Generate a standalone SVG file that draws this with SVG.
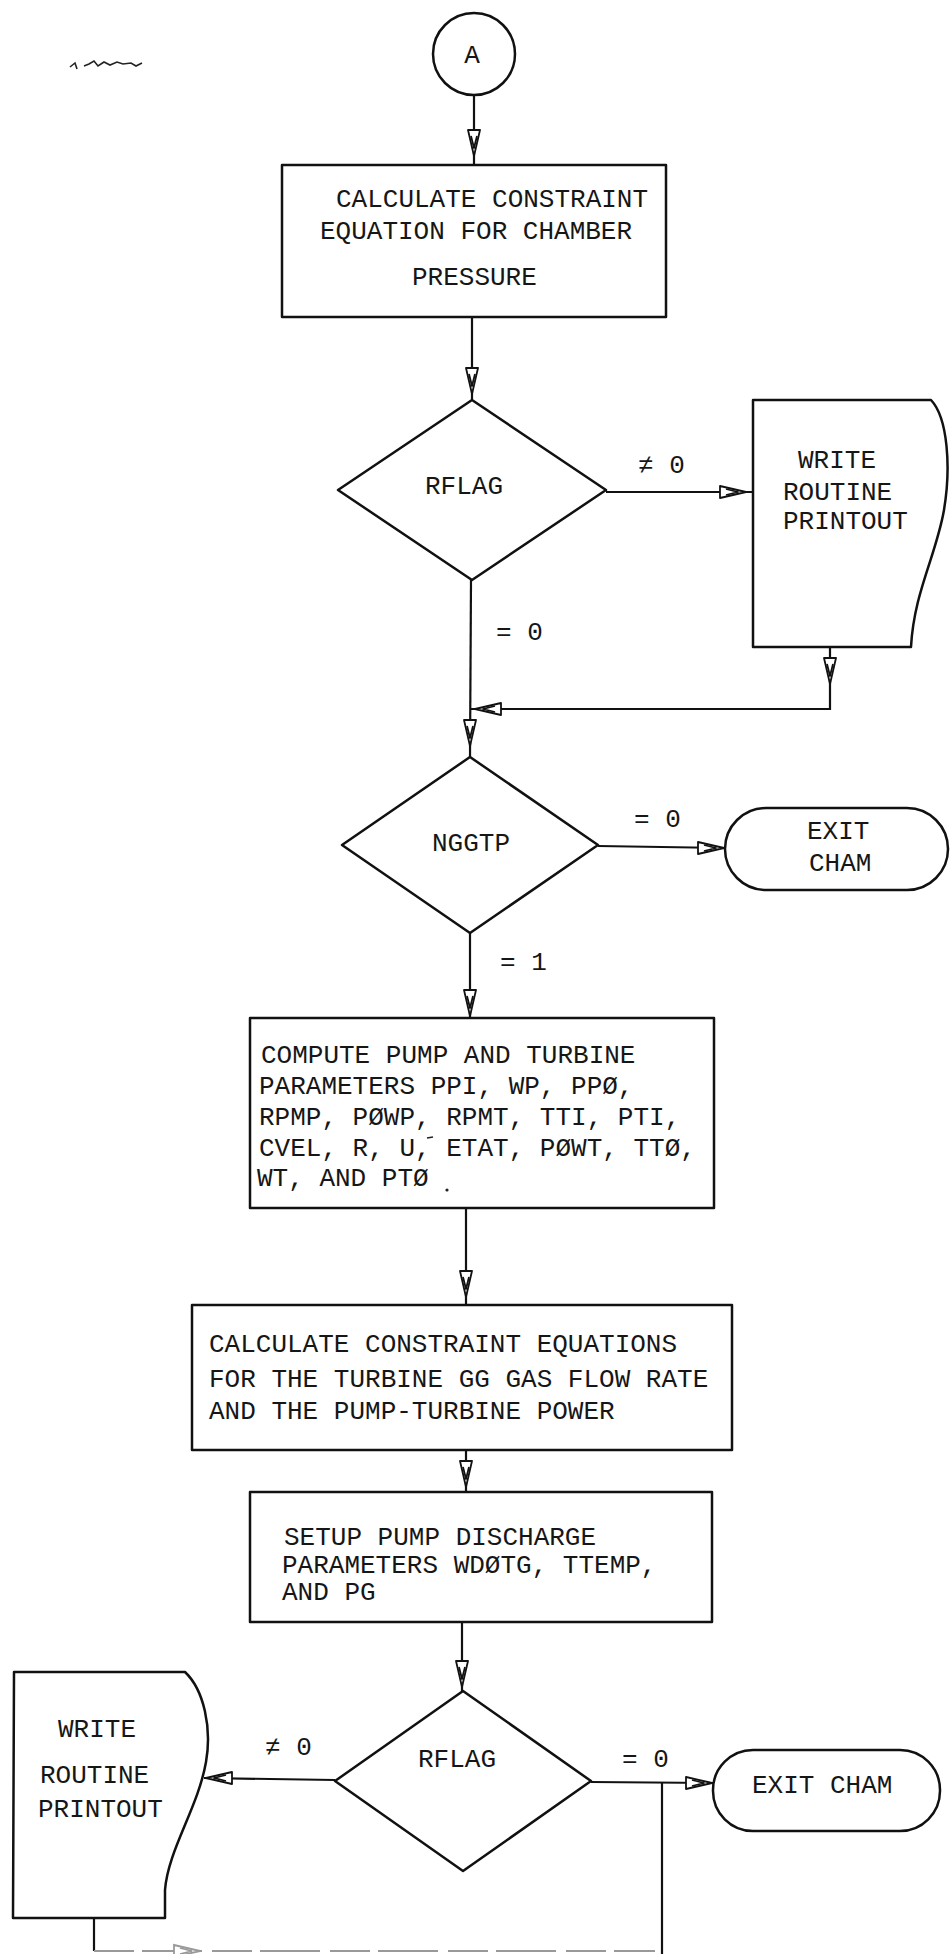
<svg xmlns="http://www.w3.org/2000/svg" xmlns:xlink="http://www.w3.org/1999/xlink" width="950" height="1954" viewBox="0 0 950 1954">
<style>
  .bg { fill: #ffffff; }
  .shape { fill: none; stroke: #111; stroke-width: 2.5; stroke-linejoin: round; }
  .line { fill: none; stroke: #111; stroke-width: 2.2; }
  .faint { fill: none; stroke: #999; stroke-width: 2; stroke-dasharray: 40 8 60 10; }
  .ah { fill: #fff; stroke: #111; stroke-width: 1.8; stroke-linejoin: round; }
  .ahf { fill: #fff; stroke: #999; stroke-width: 1.8; }
  .t { font-family: "Liberation Mono", "DejaVu Sans Mono", monospace; font-size: 26px; fill: #161616; }
  .m { text-anchor: middle; }
  .speck { fill: none; stroke: #222; stroke-width: 1.6; }
</style>
<defs>
  <g id="arrow">
    <path d="M-6,-26 L0,0 L6,-26 Z"/>
    <path d="M-3,-20 L0,-8 L3,-20" fill="none"/>
  </g>
</defs>
<rect class="bg" x="0" y="0" width="950" height="1954"/>

<!-- scan mark top-left -->
<path class="speck" d="M70,67 l5,-4 l2,6 M84,66 l5,-2 l5,-3 l4,5 l6,-4 l6,3 l7,-3 l6,2 l8,-1 l5,3 l6,-3"/>

<g id="connectors">
  <line class="line" x1="474" y1="94" x2="474" y2="166"/>
  <line class="line" x1="472" y1="317" x2="472" y2="400"/>
  <line class="line" x1="606" y1="492" x2="753" y2="492"/>
  <line class="line" x1="471" y1="580" x2="470" y2="757"/>
  <polyline class="line" points="830,647 830,709 471,709"/>
  <line class="line" x1="598" y1="846" x2="725" y2="848"/>
  <line class="line" x1="470" y1="933" x2="470" y2="1018"/>
  <line class="line" x1="466" y1="1208" x2="466" y2="1305"/>
  <line class="line" x1="466" y1="1450" x2="466" y2="1492"/>
  <line class="line" x1="462" y1="1622" x2="462" y2="1691"/>
  <line class="line" x1="335" y1="1780" x2="204" y2="1778"/>
  <line class="line" x1="591" y1="1782" x2="713" y2="1783"/>
  <line class="line" x1="662" y1="1783" x2="662" y2="1954"/>
  <polyline class="line" points="94,1918 94,1951"/>
  <line class="faint" x1="94" y1="1951" x2="655" y2="1951"/>

  <use href="#arrow" class="ah" transform="translate(474,156)"/>
  <use href="#arrow" class="ah" transform="translate(472,394)"/>
  <use href="#arrow" class="ah" transform="translate(746,492) rotate(-90)"/>
  <use href="#arrow" class="ah" transform="translate(830,684)"/>
  <use href="#arrow" class="ah" transform="translate(475,709) rotate(90)"/>
  <use href="#arrow" class="ah" transform="translate(470,746)"/>
  <use href="#arrow" class="ah" transform="translate(724,848) rotate(-90)"/>
  <use href="#arrow" class="ah" transform="translate(470,1016)"/>
  <use href="#arrow" class="ah" transform="translate(466,1297)"/>
  <use href="#arrow" class="ah" transform="translate(466,1487)"/>
  <use href="#arrow" class="ah" transform="translate(462,1687)"/>
  <use href="#arrow" class="ah" transform="translate(206,1778) rotate(90)"/>
  <use href="#arrow" class="ah" transform="translate(712,1783) rotate(-90)"/>
  <use href="#arrow" class="ahf" transform="translate(200,1951) rotate(-90)"/>
</g>

<g id="connector-start-A">
  <circle class="shape" cx="474" cy="54" r="41"/>
  <text class="t m" x="472" y="63">A</text>
</g>

<g id="calc-chamber-pressure">
  <rect class="shape" x="282" y="165" width="384" height="152"/>
  <text class="t" x="336" y="207">CALCULATE CONSTRAINT</text>
  <text class="t" x="320" y="239">EQUATION FOR CHAMBER</text>
  <text class="t" x="412" y="285">PRESSURE</text>
</g>

<g id="decision-rflag-1">
  <polygon class="shape" points="472,400 606,490 472,580 338,490"/>
  <text class="t" x="425" y="494">RFLAG</text>
  <text class="t" x="638" y="473">≠ 0</text>
  <text class="t" x="496" y="640">= 0</text>
</g>

<g id="write-printout-1">
  <path class="shape" d="M753,400 L931,400 C948,418 951,468 944,510 C936,556 914,592 911,647 L753,647 Z"/>
  <text class="t" x="798" y="468">WRITE</text>
  <text class="t" x="783" y="500">ROUTINE</text>
  <text class="t" x="783" y="529">PRINTOUT</text>
</g>

<g id="decision-nggtp">
  <polygon class="shape" points="470,757 598,845 470,933 342,845"/>
  <text class="t" x="432" y="851">NGGTP</text>
  <text class="t" x="634" y="827">= 0</text>
  <text class="t" x="500" y="970">= 1</text>
</g>

<g id="exit-cham-1">
  <rect class="shape" x="725" y="808" width="223" height="82" rx="41" ry="41"/>
  <text class="t" x="807" y="839">EXIT</text>
  <text class="t" x="809" y="871">CHAM</text>
</g>

<g id="compute-pump-turbine">
  <rect class="shape" x="250" y="1018" width="464" height="190"/>
  <text class="t" x="261" y="1063">COMPUTE PUMP AND TURBINE</text>
  <text class="t" x="259" y="1094">PARAMETERS PPI, WP, PPØ,</text>
  <text class="t" x="259" y="1125">RPMP, PØWP, RPMT, TTI, PTI,</text>
  <text class="t" x="259" y="1156">CVEL, R, U, ETAT, PØWT, TTØ,</text>
  <text class="t" x="257" y="1186">WT, AND PTØ</text>
  <circle cx="447" cy="1190" r="1.6" fill="#222"/>
  <path class="speck" d="M427,1138 l6,-1"/>
</g>

<g id="calc-turbine-constraints">
  <rect class="shape" x="192" y="1305" width="540" height="145"/>
  <text class="t" x="209" y="1352">CALCULATE CONSTRAINT EQUATIONS</text>
  <text class="t" x="209" y="1387">FOR THE TURBINE GG GAS FLOW RATE</text>
  <text class="t" x="209" y="1419">AND THE PUMP-TURBINE POWER</text>
</g>

<g id="setup-pump-discharge">
  <rect class="shape" x="250" y="1492" width="462" height="130"/>
  <text class="t" x="284" y="1545">SETUP PUMP DISCHARGE</text>
  <text class="t" x="282" y="1573">PARAMETERS WDØTG, TTEMP,</text>
  <text class="t" x="282" y="1600">AND PG</text>
</g>

<g id="decision-rflag-2">
  <polygon class="shape" points="463,1691 591,1781 463,1871 335,1781"/>
  <text class="t" x="418" y="1767">RFLAG</text>
  <text class="t" x="265" y="1755">≠ 0</text>
  <text class="t" x="622" y="1767">= 0</text>
</g>

<g id="write-printout-2">
  <path class="shape" d="M14,1672 L185,1672 C204,1690 212,1728 206,1762 C198,1808 168,1850 165,1890 L165,1918 L13,1918 Z"/>
  <text class="t" x="58" y="1737">WRITE</text>
  <text class="t" x="40" y="1783">ROUTINE</text>
  <text class="t" x="38" y="1817">PRINTOUT</text>
</g>

<g id="exit-cham-2">
  <rect class="shape" x="713" y="1750" width="227" height="81" rx="40" ry="40"/>
  <text class="t" x="752" y="1793">EXIT CHAM</text>
</g>
</svg>
